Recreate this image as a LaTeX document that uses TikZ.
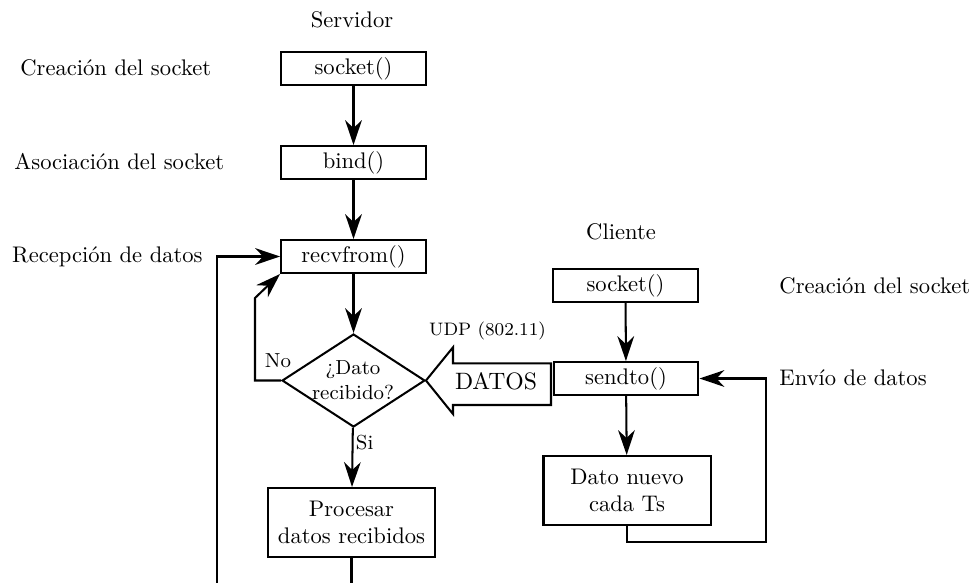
\documentclass[tikz,border=0pt]{standalone}
\usetikzlibrary{arrows.meta,shapes.geometric}
\begin{document}
\begin{tikzpicture}[x=0.443pt,y=-0.443pt,
  box/.style={draw, line width=0.9pt, minimum width=64.2pt, minimum height=14.6pt, inner sep=0pt},
  bigbox/.style={box, minimum width=74pt, minimum height=30.6pt, align=center},
  dec/.style={draw, diamond, line width=0.9pt, minimum width=63.3pt, minimum height=41.2pt, inner sep=0pt},
  flow/.style={line width=0.9pt, -{Stealth[length=11pt,width=7.4pt,inset=3.5pt]}},
  plain/.style={line width=0.9pt},
  lbl/.style={inner sep=0pt},
  small lbl/.style={font=\small, inner sep=1pt}]
\clip (0,0) rectangle (975,582);

% server side
\node (srv) at (352,20) {Servidor};
\node[box] (ss) at (353.5,68.5) {socket()};
\node[box] (bind) at (353.5,162.5) {bind()};
\node[box] (recv) at (353.5,256.5) {recvfrom()};
\node[dec] (dec) at (353.5,380.5) {};
\node[font=\small, align=center, inner sep=0pt] (dectxt) at (353,380) {¿Dato\\recibido?};
\node[bigbox] (proc) at (351.5,522.5) {Procesar\\datos recibidos};

\node[lbl, anchor=west] (lc1) at (20,68) {Creación del socket};
\node[lbl, anchor=west] (la) at (14,162) {Asociación del socket};
\node[lbl, anchor=east] (lr) at (203,257) {Recepción de datos};

\draw[flow] (ss) -- (bind);
\draw[flow] (bind) -- (recv);
\draw[flow] (recv) -- (dec);
\draw[flow] (dec) -- node[small lbl, pos=0.25, anchor=west] (si) {Si} (proc);
\node[small lbl] (no) at (278,361) {No};
\draw[flow] (dec.west) -- (255,380.5) -- (255,298) -- (recv.south west);
\draw[flow] (proc.south) -- (351.5,620) -- (217,620) -- (217,256.5) -- (recv.west);

% client side
\node (cli) at (621,232) {Cliente};
\node[box] (cs) at (625.5,285.5) {socket()};
\node[box] (send) at (626,378.5) {sendto()};
\node[bigbox] (dato) at (627,490.5) {Dato nuevo\\cada Ts};

\node[lbl, anchor=west] (lc2) at (779,286) {Creación del socket};
\node[lbl, anchor=west] (le) at (779,378) {Envío de datos};

\draw[flow] (cs) -- (send);
\draw[flow] (send) -- (dato);
\draw[flow] (dato.south) -- (627,542) -- (766,542) -- (766,378.5) -- (send.east);

% data transfer arrow
\draw[plain] (dec.east) -- (453,347.3) -- (453,363.3) -- (551,363.3) -- (551,405)
  -- (453,405) -- (453,414) -- cycle;
\node[font=\fontsize{10.5}{12}\selectfont] (datos) at (496,381) {DATOS};
\node[font=\footnotesize] (udp) at (487.5,331) {UDP (802.11)};
\end{tikzpicture}
\end{document}
